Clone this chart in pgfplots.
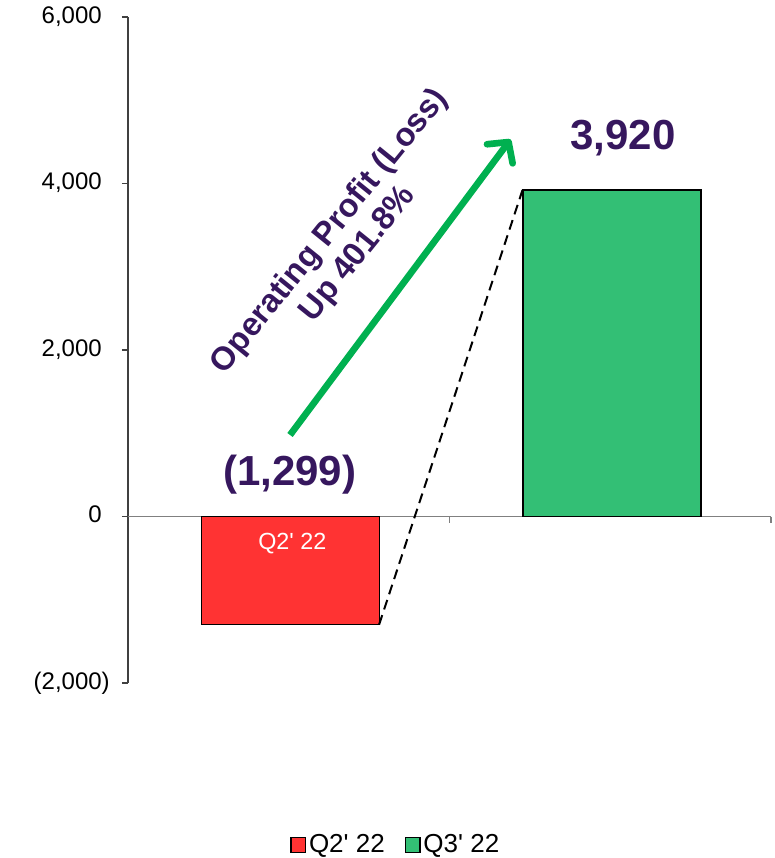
\documentclass[border=0pt]{standalone}
\usepackage{fontspec}
\setmainfont{Liberation Sans}
\usepackage{pgfplots}
\pgfplotsset{compat=1.18}
\usetikzlibrary{arrows.meta}
\definecolor{barred}{HTML}{FF3333}
\definecolor{bargreen}{HTML}{33BF75}
\definecolor{txtpurple}{HTML}{36175E}
\definecolor{arrowgreen}{HTML}{00B050}

\begin{document}
\begin{tikzpicture}
% page frame: 775 x 858 px at 0.75pt per px
\path[use as bounding box] (-96pt,-131.25pt) rectangle (485.25pt,512.25pt);
\begin{axis}[
  at={(0pt,0pt)}, anchor=south west,
  scale only axis,
  width=482.25pt, height=499.5pt,
  xmin=-0.5, xmax=1.5,
  ymin=-2000, ymax=6000,
  clip=false,
  axis x line=none,
  axis y line=left,
  axis line style={-, black!75, line width=0.8pt},
  ytick={-2000,0,2000,4000,6000},
  yticklabels={{(2,000)},{0\phantom{)}},{2,000\phantom{)}},{4,000\phantom{)}},{6,000\phantom{)}}},
  ytick align=outside,
  major tick length=4.5pt,
  tick style={black!75, line width=0.8pt},
  yticklabel style={font=\fontsize{18}{20}\selectfont, anchor=east, inner sep=0pt, xshift=-9pt},
  legend style={at={(0.417,-0.243)}, anchor=center, draw=none, legend columns=2,
    font=\fontsize{19.5}{22}\selectfont,
    /tikz/every even column/.append style={column sep=13pt}},
]
% zero line
\addplot[gray, line width=0.9pt, forget plot] coordinates {(-0.5,0) (1.5,0)};
\draw[gray, line width=0.9pt] (axis cs:0.5,0) -- ([yshift=-4.5pt]axis cs:0.5,0);
\draw[gray, line width=0.9pt] (axis cs:1.5,0) -- ([yshift=-4.5pt]axis cs:1.5,0);

\addplot[ybar, bar width=133.5pt, bar shift=1.3pt, fill=barred, draw=black, line width=1.2pt,
  legend image code/.code={\draw[fill=barred, draw=black, line width=1pt] (0pt,-5.5pt) rectangle (11pt,5.5pt);}]
  coordinates {(0,-1299)};
\addplot[ybar, bar width=133.5pt, bar shift=1.3pt, fill=bargreen, draw=black, line width=1.2pt,
  legend image code/.code={\draw[fill=bargreen, draw=black, line width=1pt] (0pt,-5.5pt) rectangle (11pt,5.5pt);}]
  coordinates {(1,3920)};

% connector from bar to bar
\addplot[black, line width=1.5pt, dash pattern=on 7.5pt off 4.5pt, forget plot]
  coordinates {(0.281,-1299) (0.727,3920)};

% growth arrow
\draw[arrowgreen, line width=5pt, -{Straight Barb[length=11pt, width=24pt, round]}]
  (axis cs:0.004,979) -- (axis cs:0.690,4530);

\node[rotate=51, align=center, text=txtpurple, font=\bfseries\fontsize{24.5}{27}\selectfont]
  at (axis cs:0.172,3285) {Operating Profit (Loss)\\Up 401.8\%};

\node[text=txtpurple, font=\bfseries\fontsize{31.5}{34}\selectfont] at (axis cs:0.003,500) {(1,299)};
\node[text=txtpurple, font=\bfseries\fontsize{31.5}{34}\selectfont] at (axis cs:1.04,4540) {3,920};
\node[text=white, font=\fontsize{17.5}{20}\selectfont] at (axis cs:0.011,-330) {Q2\textquotesingle{} 22};

\legend{Q2\textquotesingle{} 22, Q3\textquotesingle{} 22}
\end{axis}
\end{tikzpicture}
\end{document}
